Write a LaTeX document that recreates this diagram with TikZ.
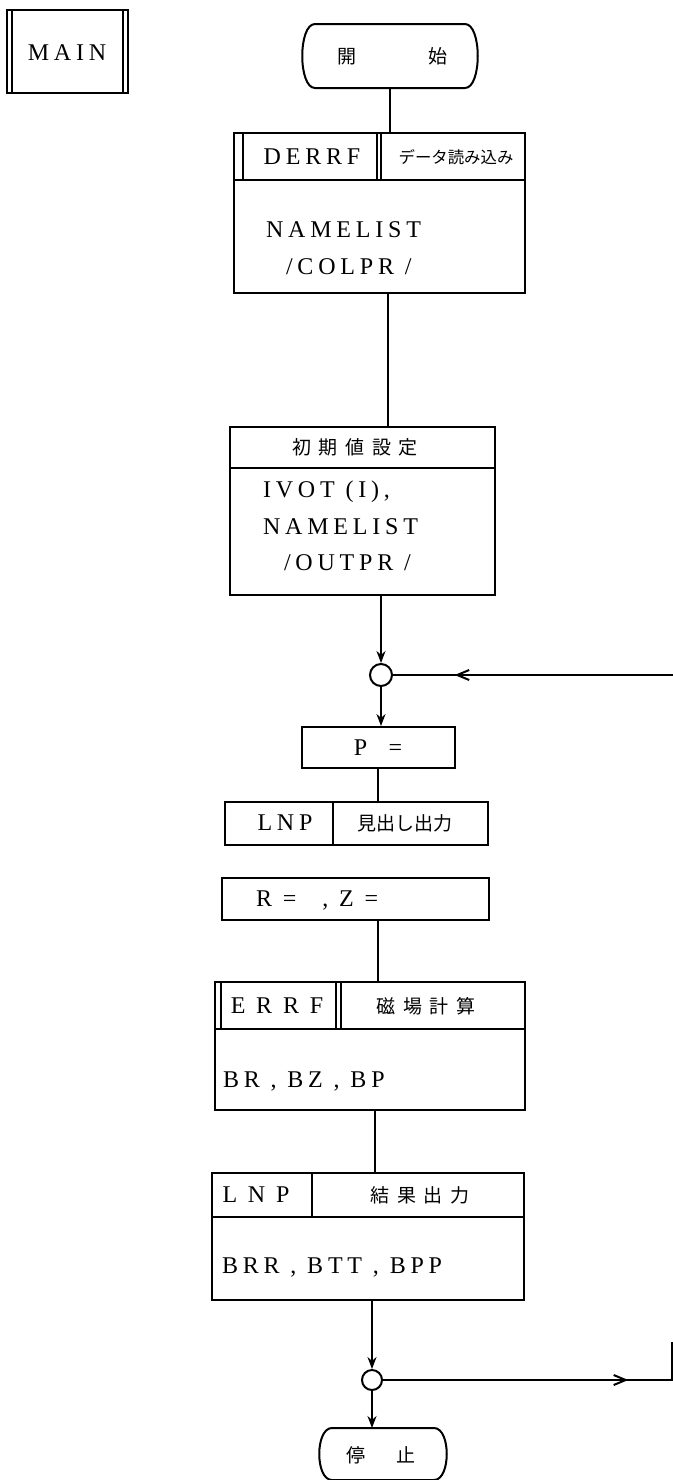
\documentclass[tikz,border=0pt]{standalone}
\usepackage{fontspec}
\setmainfont{Liberation Serif}
\newfontfamily\lsf[LetterSpace=20]{Liberation Serif}
\newfontfamily\jp{Noto Sans CJK JP}
\newfontfamily\jpw[LetterSpace=40]{Noto Sans CJK JP}
\usetikzlibrary{arrows.meta,decorations.markings}
\begin{document}
\begin{tikzpicture}[x=0.5pt,y=-0.5pt,line width=1pt,
  bx/.style 2 args={draw,line width=1pt,minimum width=#1*0.5pt,minimum height=#2*0.5pt,inner sep=0pt},
  ghost/.style 2 args={minimum width=#1*0.5pt,minimum height=#2*0.5pt,inner sep=0pt},
  lat/.style={font=\lsf\fontsize{12}{14}\selectfont,inner sep=0pt},
  jpt/.style={font=\jp\fontsize{9.5}{11}\selectfont,inner sep=0pt},
  jpsmall/.style={font=\jp\fontsize{8.2}{10}\selectfont,inner sep=0pt},
  jpwide/.style={font=\jpw\fontsize{9.5}{11}\selectfont,inner sep=0pt},
  arr/.style={-{Stealth[length=6pt,width=4.5pt]}},
  midarr/.style={decoration={markings,mark=at position #1 with {\arrow{Straight Barb[length=6pt,width=5pt]}}},postaction=decorate}
]
\useasboundingbox (0,0) rectangle (673,1480);

% MAIN box
\node[bx={121}{83}] (main) at (67.5,51.5) {};
\draw ([xshift=3pt]main.north west) -- ([xshift=3pt]main.south west);
\draw ([xshift=-3pt]main.north east) -- ([xshift=-3pt]main.south east);
\node[lat] (maint) at (67,53) {MAIN};

% start terminal
\node[ghost={174}{62}] (start) at (390,56) {};
\draw ([xshift=6.5pt]start.north west) -- ([xshift=-6.5pt]start.north east)
  .. controls ([xshift=2pt]start.north east) and ([xshift=2pt]start.south east) .. ([xshift=-6.5pt]start.south east)
  -- ([xshift=6.5pt]start.south west)
  .. controls ([xshift=-2pt]start.south west) and ([xshift=-2pt]start.north west) .. cycle;
\node[jpt] (startt) at (392,56) {開\hspace{36pt}始};

% DERRF box
\node[bx={291}{160}] (derrf) at (379.5,213) {};
\draw (234,180) -- (525,180);
\draw (243,133) -- (243,180);
\draw (377,133) -- (377,180);
\draw (381,133) -- (381,180);
\node[lat] (derrft) at (312,157) {DERRF};
\node[jpsmall] (derrfj) at (456,157) {データ読み込み};
\node[lat,anchor=west] (nl1) at (265,230) {NAMELIST};
\node[lat,anchor=west] (nl2) at (285,267) {/COLPR /};

% init box
\node[bx={265}{168}] (init) at (362.5,511) {};
\draw (230,468) -- (495,468);
\node[jpwide] (initj) at (355,447) {初期値設定};
\node[lat,anchor=west] (iv1) at (262,492) {IVOT (I),};
\node[lat,anchor=west] (iv2) at (262,527) {NAMELIST};
\node[lat,anchor=west] (iv3) at (283,563) {/OUTPR /};

% junction 1
\node[circle,draw,line width=1pt,minimum size=11pt,inner sep=0pt] (c1) at (381,675) {};
\coordinate (rtop) at (673,675);

% P box
\node[bx={153}{41}] (pbox) at (378.5,747.5) {};
\node[lat] (pt) at (378,748) {P~~=};

% LNP header box
\node[bx={263}{43}] (lnp1) at (356.5,823.5) {};
\draw (333,802) -- (333,845);
\node[lat] (lnp1t) at (285,823) {LNP};
\node[jpt] (lnp1j) at (405,823) {見出し出力};

% R Z box
\node[bx={267}{42}] (rz) at (355.5,899) {};
\node[lat,anchor=west] (rzt) at (255,900) {R =\hspace{13pt}, Z =};

% ERRF box
\node[bx={310}{128}] (errf) at (370,1046) {};
\draw (215,1029) -- (525,1029);
\draw (221,982) -- (221,1029);
\draw (336,982) -- (336,1029);
\draw (341,982) -- (341,1029);
\node[lat] (errft) at (277,1006) {E R R F};
\node[jpwide] (errfj) at (426,1006) {磁場計算};
\node[lat,anchor=west] (bt) at (222,1081) {BR , BZ , BP};

% LNP result box
\node[bx={312}{127}] (lnp2) at (368,1236.5) {};
\draw (212,1217) -- (524,1217);
\draw (312,1173) -- (312,1217);
\node[lat] (lnp2t) at (256,1195) {L N P};
\node[jpwide] (lnp2j) at (420,1195) {結果出力};
\node[lat,anchor=west] (bpt) at (221,1267) {BRR , BTT , BPP};

% junction 2
\node[circle,draw,line width=1pt,minimum size=10pt,inner sep=0pt] (c2) at (372,1380) {};
\coordinate (rbot) at (672,1380);
\coordinate (rbup) at (672,1342);

% stop terminal
\node[ghost={126}{50}] (stop) at (383,1454) {};
\draw ([xshift=6.5pt]stop.north west) -- ([xshift=-6.5pt]stop.north east)
  .. controls ([xshift=2pt]stop.north east) and ([xshift=2pt]stop.south east) .. ([xshift=-6.5pt]stop.south east)
  -- ([xshift=6.5pt]stop.south west)
  .. controls ([xshift=-2pt]stop.south west) and ([xshift=-2pt]stop.north west) .. cycle;
\node[jpt] (stopt) at (381,1455) {停\hspace{16pt}止};

% connectors
\draw (start.south) -- (start.south |- derrf.north);
\draw (388,293) -- (388,427);
\draw[arr] (c1 |- init.south) -- (c1.north);
\draw[arr] (c1.south) -- (c1 |- pbox.north);
\draw ([xshift=-0.5pt]pbox.south) -- ([xshift=-0.5pt]pbox.south |- lnp1.north);
\draw (378,920) -- (378,982);
\draw (375,1110) -- (375,1173);
\draw[arr] (c2 |- lnp2.south) -- (c2.north);
\draw[arr] (c2.south) -- (c2 |- stop.north);
\draw[midarr=0.78] (rtop) -- (c1.east);
\draw[midarr=0.75] (c2.east) -- (rbot) -- (rbup);
\end{tikzpicture}
\end{document}
